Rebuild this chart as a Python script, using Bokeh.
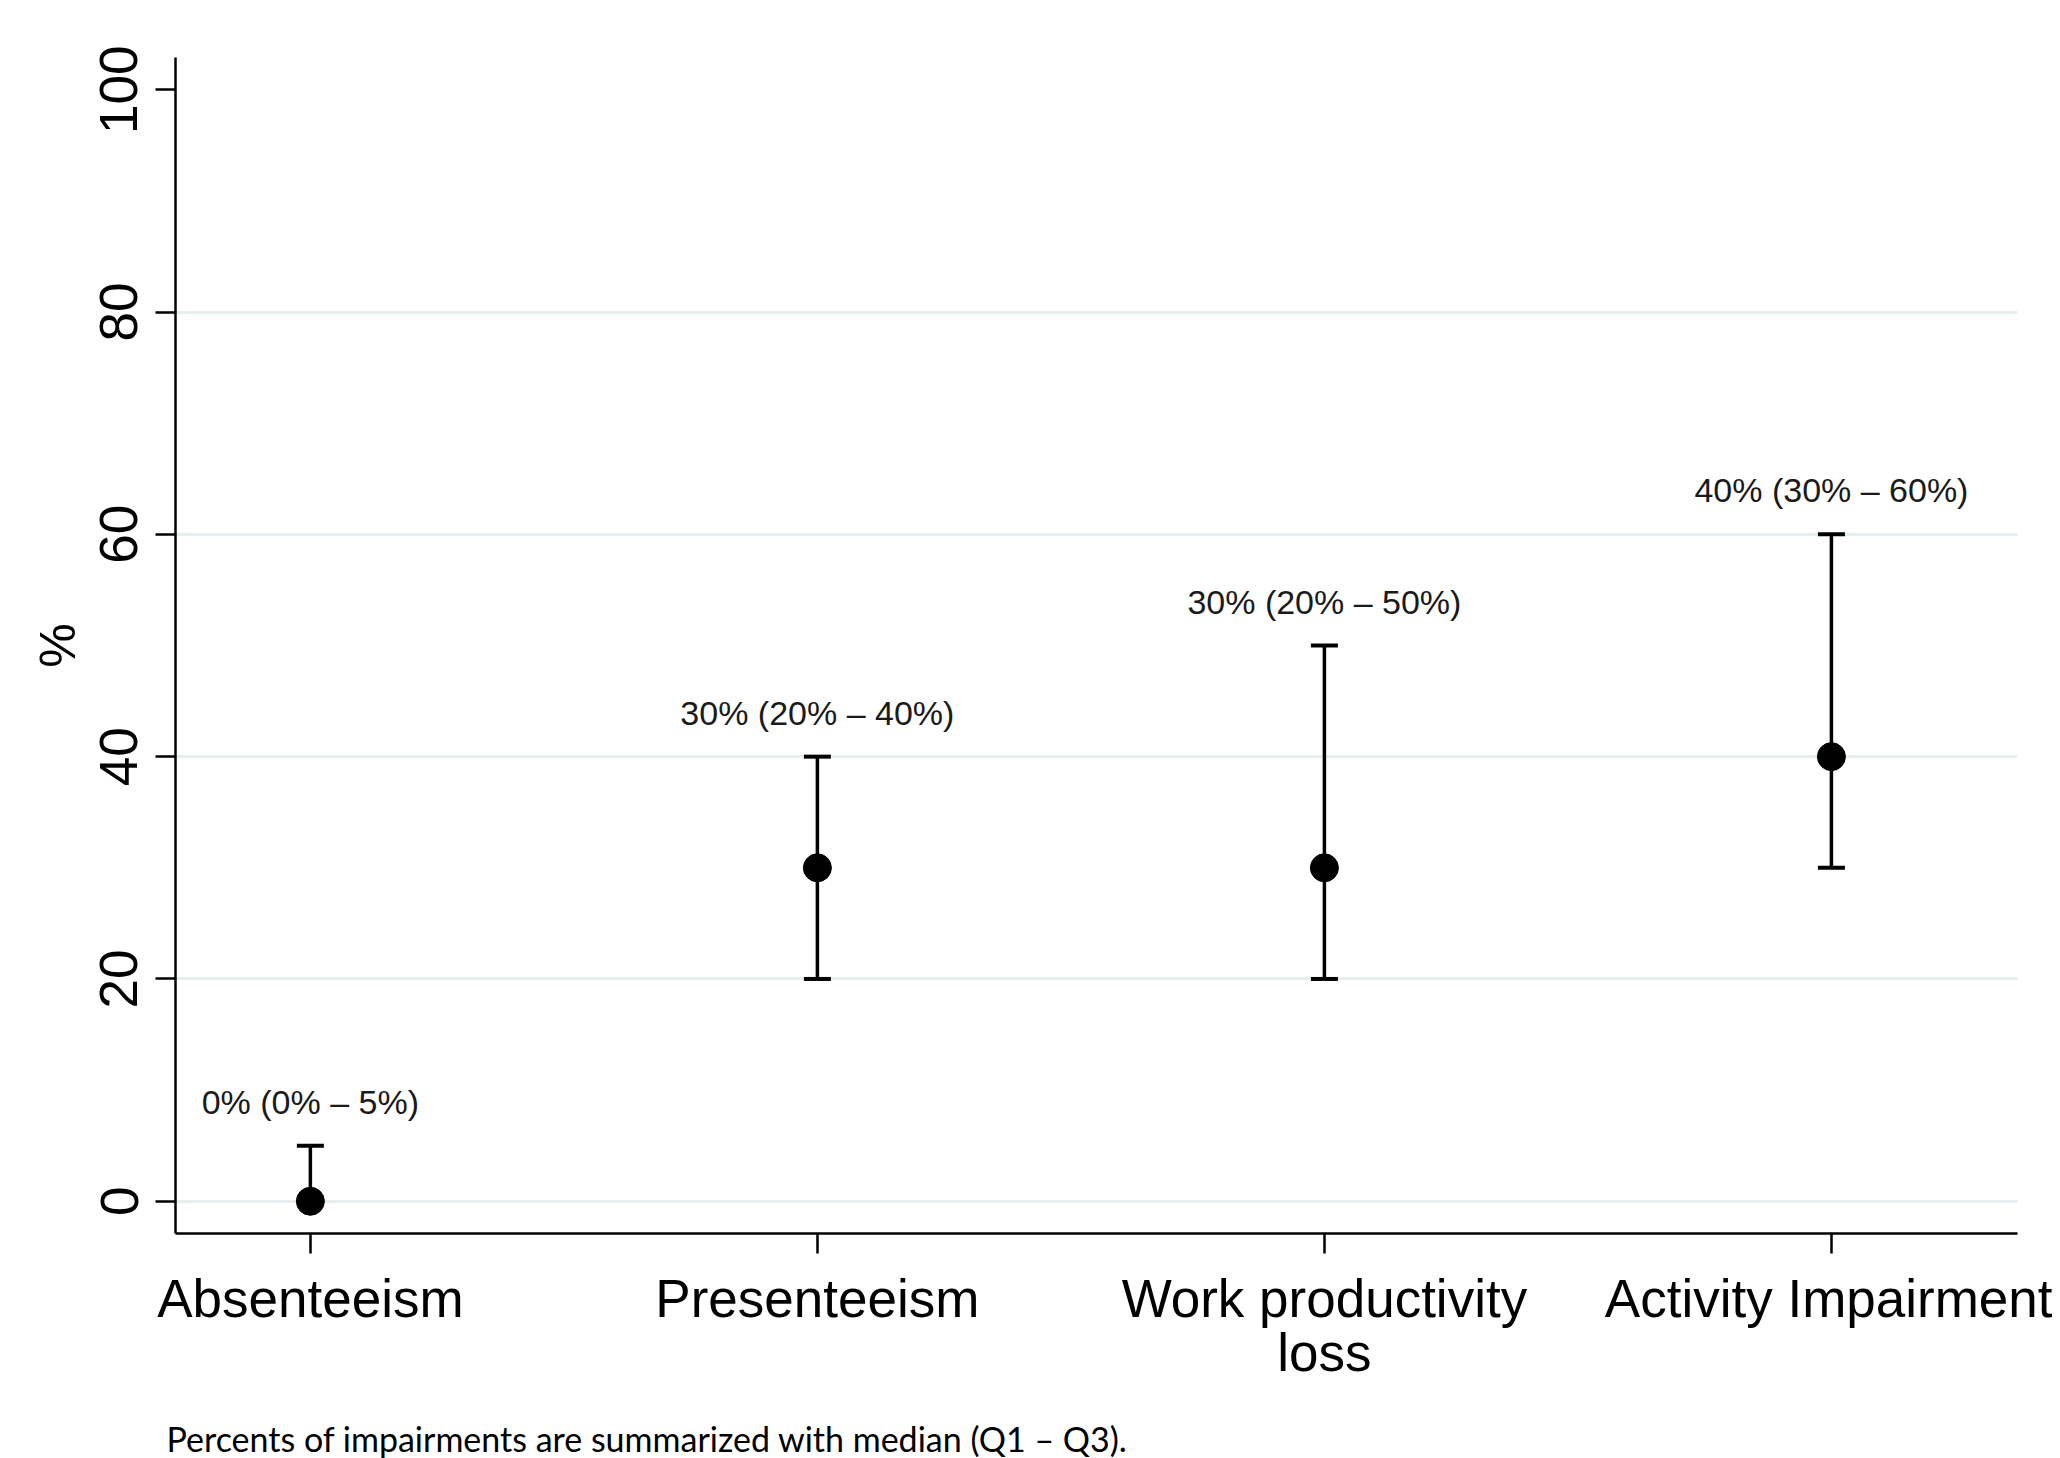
from bokeh.plotting import figure
from bokeh.layouts import column
from bokeh.models import Range1d, FixedTicker, Title, ColumnDataSource
from bokeh.core.properties import value
from bokeh.embed import file_html
from bokeh.resources import INLINE

# ---- data ----
categories = ["Absenteeism", "Presenteeism", "Work productivity\nloss", "Activity Impairment"]
positions = [1, 2, 3, 4]
median = [0, 30, 30, 40]
q1 = [0, 20, 20, 30]
q3 = [5, 40, 50, 60]
labels = ["0% (0% \u2013 5%)", "30% (20% \u2013 40%)", "30% (20% \u2013 50%)", "40% (30% \u2013 60%)"]
y_ticks = [0, 20, 40, 60, 80, 100]
grid_ticks = [0, 20, 40, 60, 80]
footnote = "Percents of impairments are summarized with median (Q1 \u2013 Q3)."

FONT = "Liberation Sans"

src = ColumnDataSource(dict(x=positions, med=median, lo=q1, hi=q3, lab=labels))

p = figure(width=2052, height=1388, output_backend="svg", toolbar_location=None,
           x_range=Range1d(0.734, 4.367), y_range=Range1d(-2.9, 102.9),
           min_border_left=175, min_border_right=35, min_border_top=57, min_border_bottom=155)
p.outline_line_color = None
p.background_fill_color = "white"
p.border_fill_color = "white"

# grid
p.xgrid.visible = False
p.ygrid.ticker = FixedTicker(ticks=grid_ticks)
p.ygrid.grid_line_color = "#e6eef0"
p.ygrid.grid_line_width = 3

# y axis
p.yaxis.ticker = FixedTicker(ticks=y_ticks)
p.yaxis.minor_tick_line_color = None
p.yaxis.major_tick_out = 20
p.yaxis.major_tick_in = 0
p.yaxis.major_tick_line_width = 2.5
p.yaxis.major_tick_line_color = "black"
p.yaxis.axis_line_width = 2.5
p.yaxis.axis_line_color = "black"
p.yaxis.major_label_orientation = "vertical"
p.yaxis.major_label_text_font = FONT
p.yaxis.major_label_text_font_size = "53px"
p.yaxis.major_label_text_color = "black"
p.yaxis.major_label_standoff = 18
p.yaxis.axis_label = "%"
p.yaxis.axis_label_text_font = FONT
p.yaxis.axis_label_text_font_size = "50px"
p.yaxis.axis_label_text_font_style = "normal"
p.yaxis.axis_label_text_color = "black"
p.yaxis.axis_label_standoff = 12

# x axis
p.xaxis.ticker = FixedTicker(ticks=positions)
p.xaxis.major_label_overrides = {pos: cat for pos, cat in zip(positions, categories)}
p.xaxis.minor_tick_line_color = None
p.xaxis.major_tick_out = 20
p.xaxis.major_tick_in = 0
p.xaxis.major_tick_line_width = 2.5
p.xaxis.major_tick_line_color = "black"
p.xaxis.axis_line_width = 2.5
p.xaxis.axis_line_color = "black"
p.xaxis.major_label_text_font = FONT
p.xaxis.major_label_text_font_size = "53px"
p.xaxis.major_label_text_color = "black"
p.xaxis.major_label_text_line_height = 0.92
p.xaxis.major_label_standoff = 15

# whiskers
p.segment(x0="x", y0="lo", x1="x", y1="hi", source=src, line_color="black", line_width=3.5)
p.scatter(x="x", y="hi", source=src, marker="dash", size=27, line_color="black", line_width=4)
p.scatter(x="x", y="lo", source=src, marker="dash", size=27, line_color="black", line_width=4)
# medians
p.scatter(x="x", y="med", source=src, marker="circle", size=28, fill_color="black", line_color="black")

# annotations
p.text(x="x", y="hi", text="lab", source=src, y_offset=-44, text_align="center", text_baseline="middle",
       text_font=value(FONT), text_font_size="34px", text_color="#1a1a1a")

# footnote strip (separate small figure holding only the note)
p2 = figure(width=2052, height=70, output_backend="svg", toolbar_location=None,
            min_border_left=175, min_border_right=35, min_border_top=0, min_border_bottom=0)
p2.axis.visible = False
p2.grid.visible = False
p2.outline_line_color = None
p2.border_fill_color = "white"
p2.background_fill_color = "white"
fn = Title(text=footnote, align="left", text_font="Lato", text_font_size="34px",
           text_font_style="normal", text_color="black", offset=-9, standoff=0)
p2.add_layout(fn, "below")

layout = column(p, p2, spacing=0)
open("out.html", "w").write(file_html(layout, INLINE))
